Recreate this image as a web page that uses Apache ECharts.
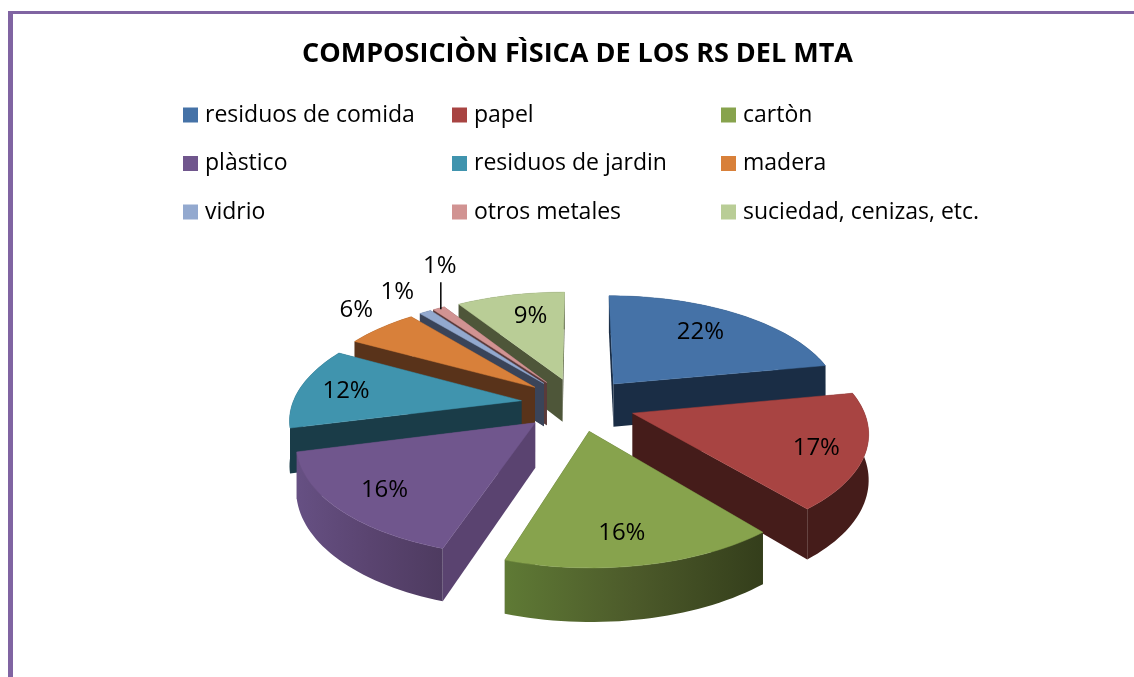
<!DOCTYPE html>
<html><head><meta charset="utf-8">
<style>html,body{margin:0;padding:0;background:#fff}#c{width:1134px;height:677px}</style>
<script src="https://cdn.jsdelivr.net/npm/echarts@6/dist/echarts.min.js"></script>
</head><body><div id="c"></div>
<script>
const titleText = 'COMPOSICIÒN FÌSICA DE LOS RS DEL MTA';
const categories = ['residuos de comida','papel','cartòn','plàstico','residuos de jardin','madera','vidrio','otros metales','suciedad, cenizas, etc.'];
const values = [22,17,16,16,12,6,1,1,9];
const topColors = ['#4572A7','#A84442','#87A34D','#70568D','#4094AE','#D8803A','#93A9CF','#D19392','#B9CD96'];
const wallColors = ['#1A2D45','#451C1A','#39431F','#5A4370','#1A3C48','#59331A','#3A4459','#5A3A3A','#4E5639'];
const rimStops = [null,null,['#5F7A35','#4C5A2A','#343E1B'],['#665083','#5A4470','#4E3B60'],null,null,null,null,null];

/* perspective pie geometry */
const CX = 578, CY = 404, RX = 229, RY = 107, K = 0.15, DEPTH = 44, EXPLODE = 0.25;
/* label anchor: radial fraction on the slice, plus a nudge in px */
const labelR = [0.62,0.68,0.62,0.62,0.8,1.2,1.2,1.2,0.62];
const labelNudge = [[7,-7],[28,9],[1,24],[-34,16],[2,1],[3,-7],[-7,-7],[20,-29],[2,-8]];
const drawOrder = [8,7,6,5,4,0,1,3,2];

const total = values.reduce((a,b)=>a+b,0);
function project(u,v,z){const s=1+K*v;return [CX+RX*u/s,CY+(-RY*v+DEPTH*z)/s];}
function sliceAngles(i){let c=0;for(let j=0;j<i;j++)c+=values[j];
  return [c/total*2*Math.PI,(c+values[i])/total*2*Math.PI];}
const side=(p,q,r)=>(q[0]-p[0])*(r[1]-p[1])-(q[1]-p[1])*(r[0]-p[0]);

function renderSlice(i){
  const [a0,a1]=sliceAngles(i),mid=(a0+a1)/2;
  const ex=EXPLODE*Math.sin(mid),ey=EXPLODE*Math.cos(mid);
  const N=Math.max(4,Math.ceil((a1-a0)/0.03));
  const P=(r,a,z)=>project(ex+r*Math.sin(a),ey+r*Math.cos(a),z);
  const arc=z=>{const o=[];for(let n=0;n<=N;n++)o.push(P(1,a0+(a1-a0)*n/N,z));return o;};
  const topArc=arc(0),botArc=arc(1);
  const A=project(ex,ey,0),Ab=project(ex,ey,1);
  const mp=P(0.5,mid,0);
  const back=[],front=[];
  [0,N].forEach(n=>{
    const w={type:'polygon',shape:{points:[A,topArc[n],botArc[n],Ab]},style:{fill:wallColors[i]}};
    const opposite=side(A,topArc[n],mp)*side(A,topArc[n],[A[0],A[1]+1])<0;
    (opposite?front:back).push(w);
  });
  const stops=rimStops[i];
  const rimFill=stops?new echarts.graphic.LinearGradient(0,0,1,0,stops.map((c,k)=>({offset:k/(stops.length-1),color:c}))):wallColors[i];
  const rim={type:'polygon',shape:{points:topArc.concat(botArc.slice().reverse())},style:{fill:rimFill}};
  const top={type:'polygon',shape:{points:[A].concat(topArc)},style:{fill:topColors[i],stroke:topColors[i],lineWidth:0.5}};
  const lp=P(labelR[i],mid,0);
  const lx=lp[0]+labelNudge[i][0],ly=lp[1]+labelNudge[i][1];
  const children=[...back,rim,...front,top,{type:'text',z2:10,style:{text:Math.round(values[i]/total*100)+'%',x:lx,y:ly,align:'center',verticalAlign:'middle',fill:'#000',font:'24px "Open Sans"'}}];
  if(i===7){const e=P(1,mid,0);children.push({type:'line',z2:10,shape:{x1:lx+1,y1:ly+16,x2:lx+1,y2:e[1]+1},style:{stroke:'#000',lineWidth:1.5}});}
  return {type:'group',children};
}

const series=categories.map((name,i)=>({
  type:'custom',name,coordinateSystem:'none',silent:true,
  z:2+drawOrder.indexOf(i),
  itemStyle:{color:topColors[i]},
  data:[[values[i]]],
  renderItem:()=>renderSlice(i)
}));
const legendLeft=[183,452,721];
const legend=legendLeft.map((left,c)=>({
  orient:'vertical',left,top:103,icon:'rect',itemWidth:15,itemHeight:15,itemGap:24.5,
  selectedMode:false,padding:0,
  data:[categories[c],categories[c+3],categories[c+6]],
  textStyle:{fontFamily:'Open Sans',fontSize:23,lineHeight:24,color:'#000',padding:[0,0,0,2]}
}));
const chart=echarts.init(document.getElementById('c'),null,{renderer:'canvas'});
chart.setOption({
  animation:false,backgroundColor:'#fff',
  title:{text:titleText,left:302,top:41,itemGap:0,padding:0,
    textStyle:{fontFamily:'Open Sans',fontWeight:'bold',fontSize:27,color:'#000'}},
  legend,series,
  graphic:[
    {type:'rect',shape:{x:8,y:11,width:1126,height:3},style:{fill:'#8064A2'}},
    {type:'rect',shape:{x:8,y:11,width:5,height:666},style:{fill:'#8064A2'}}
  ]
});
</script></body></html>
